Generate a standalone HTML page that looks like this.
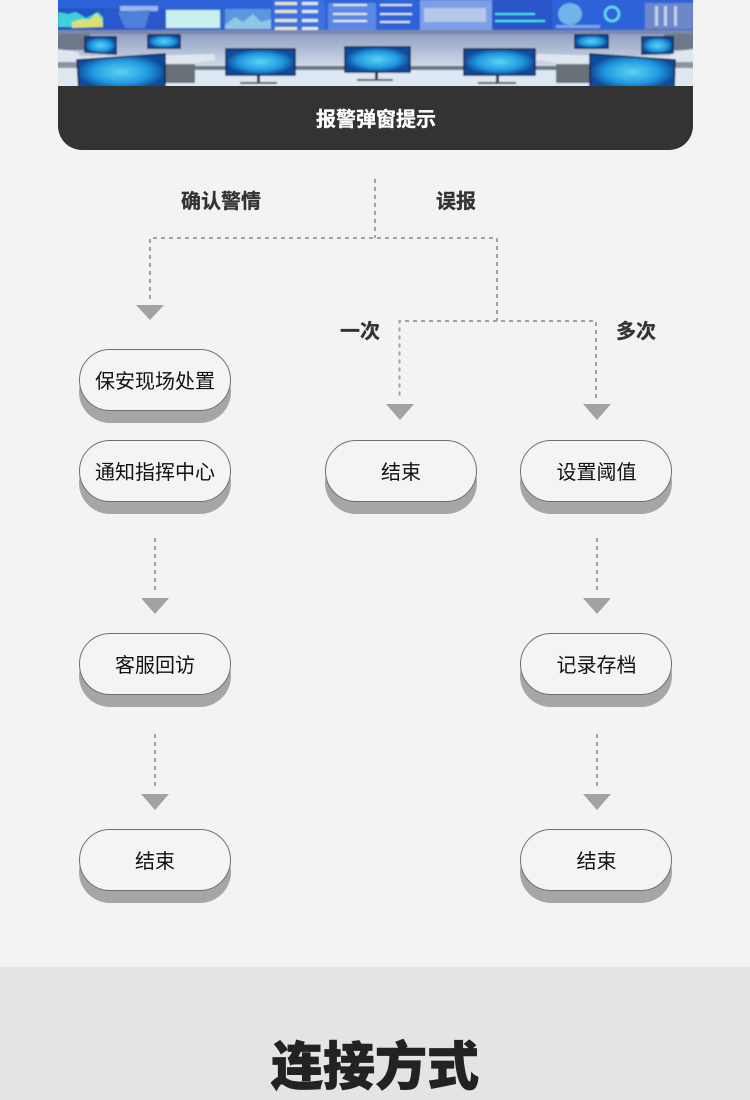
<!DOCTYPE html>
<html><head><meta charset="utf-8">
<style>
html,body{margin:0;padding:0;background:#f3f3f3}
svg{display:block}
text{font-family:"Liberation Sans","Noto Sans CJK SC",sans-serif;text-anchor:middle}
.b{font-weight:700;font-size:20px;fill:#333;stroke:#333;stroke-width:.3}
.p{font-size:20px;fill:#111}
.d{stroke:#a2a2a2;stroke-width:2;stroke-dasharray:4 4;fill:none}
.pill{fill:#f4f4f4;stroke:#6e6e6e;stroke-width:1}
.sh{fill:#a6a6a6}
.ar{fill:#a2a2a2}
</style></head>
<body>
<svg width="750" height="1100" viewBox="0 0 750 1100" xmlns="http://www.w3.org/2000/svg">
<defs>
<linearGradient id="wall" x1="0" y1="0" x2="0" y2="1"><stop offset="0" stop-color="#8f9cc0"/><stop offset="1" stop-color="#cfd9ea"/></linearGradient>
<radialGradient id="scr"><stop offset="0" stop-color="#5cd4f0"/><stop offset="0.65" stop-color="#2098e0"/><stop offset="1" stop-color="#0f4c9c"/></radialGradient>
<filter id="bl" x="0" y="0" width="100%" height="100%"><feGaussianBlur stdDeviation="0.7"/></filter>
<g id="m"><rect x="0" y="0" width="1" height="1" fill="url(#scr)"/></g>
<clipPath id="ic"><rect x="58" y="0" width="635" height="86"/></clipPath>
</defs>
<rect width="750" height="1100" fill="#f3f3f3"/>
<rect x="0" y="967" width="750" height="133" fill="#e4e4e6"/>

<!-- image -->
<g clip-path="url(#ic)"><g filter="url(#bl)">
<rect x="50" y="-4" width="650" height="36" fill="#2f62d8"/>
<rect x="50" y="32" width="650" height="34" fill="url(#wall)"/>
<rect x="50" y="30" width="650" height="4" fill="#7a88ac"/>
<rect x="50" y="66" width="650" height="4" fill="#6d7684"/>
<rect x="50" y="70" width="650" height="20" fill="#dce8f4"/>
<path d="M50 34H90V50H50z" fill="#6e7888"/>
<path d="M700 34H664V50H700z" fill="#6e7888"/>
<!-- desks -->
<path d="M50 48L78 52 80 56H140L214 54 216 60 195 63V82H50z" fill="#dfe6f0"/>
<path d="M165 64H195V83H165z" fill="#6a7078"/>
<path d="M50 62H80V68H50z" fill="#8d939e"/>
<path d="M700 48L672 52 670 56H610L537 54 535 60 556 63V82H700z" fill="#dfe6f0"/>
<path d="M556 64H590V83H556z" fill="#6a7078"/>
<path d="M660 62H700V68H660z" fill="#8d939e"/>
<!-- wall screens -->
<path d="M50 8H104V30H50z" fill="#2456c4"/>
<path d="M58 12l10 2 8-2 10 6 6-3 6-3 5 5v10H58z" fill="#3fd0d8"/>
<path d="M72 22l10-3 8 1 6-7 6 6 1 8-31 1z" fill="#dce070"/>
<rect x="104" y="8" width="62" height="22" fill="#2a58cc"/>
<path d="M120 6H158V11H120z" fill="#9ab8e8"/>
<path d="M118 12L150 10 145 28H125z" fill="#4d80da"/>
<rect x="166" y="10" width="54" height="18" fill="#c6efee"/>
<rect x="225" y="9" width="46" height="20" fill="#5b96de"/>
<path d="M225 25l10-8 8 5 10-8 8 8 10-3v10h-46z" fill="#8fc6e4"/>
<rect x="273" y="0" width="52" height="30" fill="#3a72de"/>
<rect x="275" y="2" width="22" height="3" fill="#e8e6c8"/><rect x="302" y="2" width="16" height="3" fill="#e0e8f4"/>
<rect x="275" y="10" width="22" height="3" fill="#e8e6c8"/><rect x="302" y="10" width="16" height="3" fill="#e0e8f4"/>
<rect x="275" y="19" width="22" height="3" fill="#e8e6c8"/><rect x="302" y="19" width="16" height="3" fill="#e0e8f4"/>
<rect x="275" y="27" width="22" height="3" fill="#e8e6c8"/><rect x="302" y="27" width="16" height="3" fill="#e0e8f4"/>
<rect x="328" y="3" width="48" height="27" fill="#5a88e4"/>
<rect x="333" y="4" width="34" height="2" fill="#e6e8ea"/><rect x="333" y="13" width="34" height="2" fill="#e6e8ea"/><rect x="333" y="20" width="34" height="2" fill="#e6e8ea"/>
<rect x="380" y="4" width="32" height="2" fill="#d8e2f2"/><rect x="380" y="13" width="32" height="2" fill="#d8e2f2"/><rect x="380" y="21" width="30" height="2" fill="#d8e2f2"/>
<rect x="420" y="0" width="72" height="30" fill="#7c9fe6"/>
<rect x="424" y="8" width="62" height="14" fill="#b4c8ea"/>
<rect x="492" y="0" width="60" height="30" fill="#2954c8"/>
<rect x="495" y="13" width="40" height="2" fill="#44e4e8"/><rect x="495" y="20" width="50" height="2" fill="#44e4e8"/>
<ellipse cx="570" cy="14" rx="12" ry="11" fill="#6fb4ea"/>
<path d="M556 25H600V28H556z" fill="#7ea6e4"/>
<circle cx="612" cy="14" r="7" fill="none" stroke="#60e0ee" stroke-width="2.500"/>
<rect x="645" y="3" width="48" height="26" fill="#6d88c8"/>
<rect x="655" y="6" width="3" height="20" fill="#c6d2ea"/><rect x="664" y="6" width="3" height="20" fill="#c6d2ea"/><rect x="674" y="6" width="3" height="20" fill="#c6d2ea"/>
<!-- monitors -->
<g stroke="#0c1e42" stroke-width="1.500">
<path d="M85 37L116 37V54L85 52z" fill="url(#scr)"/>
<path d="M148 35H180V48H148z" fill="url(#scr)"/>
<path d="M642 37H673V53L642 54z" fill="url(#scr)"/>
<path d="M575 35H608V48H575z" fill="url(#scr)"/>
<path d="M77 60L165 54V90H79z" fill="url(#scr)"/>
<path d="M226 49H295V75H226z" fill="url(#scr)"/>
<path d="M345 47H410V72H345z" fill="url(#scr)"/>
<path d="M464 49H535V75H464z" fill="url(#scr)"/>
<path d="M590 54L675 60 674 90H590z" fill="url(#scr)"/>
</g>
<rect x="257" y="75" width="3" height="7" fill="#2a3448"/><rect x="240" y="82" width="37" height="2" fill="#4a5468"/>
<rect x="375" y="72" width="3" height="7" fill="#2a3448"/><rect x="357" y="79" width="36" height="2" fill="#4a5468"/>
<rect x="496" y="75" width="3" height="7" fill="#2a3448"/><rect x="478" y="82" width="38" height="2" fill="#4a5468"/>
</g></g>

<!-- dark bar -->
<path d="M58 86H693V126a24 24 0 0 1-24 24H82a24 24 0 0 1-24-24z" fill="#333"/>
<text x="376" y="126" font-size="20" font-weight="700" fill="#fff" stroke="#fff" stroke-width=".3">报警弹窗提示</text>

<!-- connectors -->
<path class="d" d="M375 179V238"/>
<path class="d" d="M150 299V238H497V321"/>
<path class="d" d="M596 398V321H399.500V398"/>
<path class="d" d="M155 538V592"/>
<path class="d" d="M155 734V788"/>
<path class="d" d="M597 538V592"/>
<path class="d" d="M597 734V788"/>
<path class="ar" d="M136 305H164L150 320z"/>
<path class="ar" d="M386 404H414L400 420z"/>
<path class="ar" d="M583 404H611L597 420z"/>
<path class="ar" d="M141 598H169L155 614z"/>
<path class="ar" d="M141 794H169L155 810z"/>
<path class="ar" d="M583 598H611L597 614z"/>
<path class="ar" d="M583 794H611L597 810z"/>

<!-- labels -->
<text class="b" x="221" y="208">确认警情</text>
<text class="b" x="456" y="208">误报</text>
<text class="b" x="360" y="338">一次</text>
<text class="b" x="636" y="338">多次</text>

<!-- pills -->
<rect class="sh" x="79" y="361" width="152" height="62" rx="31"/><rect class="pill" x="79.500" y="349.500" width="151" height="61" rx="30.500"/>
<text class="p" x="155" y="388">保安现场处置</text>
<rect class="sh" x="79" y="452" width="152" height="62" rx="31"/><rect class="pill" x="79.500" y="440.500" width="151" height="61" rx="30.500"/>
<text class="p" x="155" y="479">通知指挥中心</text>
<rect class="sh" x="325" y="452" width="152" height="62" rx="31"/><rect class="pill" x="325.500" y="440.500" width="151" height="61" rx="30.500"/>
<text class="p" x="401" y="479">结束</text>
<rect class="sh" x="520" y="452" width="152" height="62" rx="31"/><rect class="pill" x="520.500" y="440.500" width="151" height="61" rx="30.500"/>
<text class="p" x="596.500" y="479">设置阈值</text>
<rect class="sh" x="79" y="645" width="152" height="62" rx="31"/><rect class="pill" x="79.500" y="633.500" width="151" height="61" rx="30.500"/>
<text class="p" x="155" y="672">客服回访</text>
<rect class="sh" x="520" y="645" width="152" height="62" rx="31"/><rect class="pill" x="520.500" y="633.500" width="151" height="61" rx="30.500"/>
<text class="p" x="596.500" y="672">记录存档</text>
<rect class="sh" x="79" y="841" width="152" height="62" rx="31"/><rect class="pill" x="79.500" y="829.500" width="151" height="61" rx="30.500"/>
<text class="p" x="155" y="868">结束</text>
<rect class="sh" x="520" y="841" width="152" height="62" rx="31"/><rect class="pill" x="520.500" y="829.500" width="151" height="61" rx="30.500"/>
<text class="p" x="596.500" y="868">结束</text>

<text x="375" y="1085" font-size="52" font-weight="900" fill="#222" stroke="#222" stroke-width=".8">连接方式</text>
</svg>
</body></html>
